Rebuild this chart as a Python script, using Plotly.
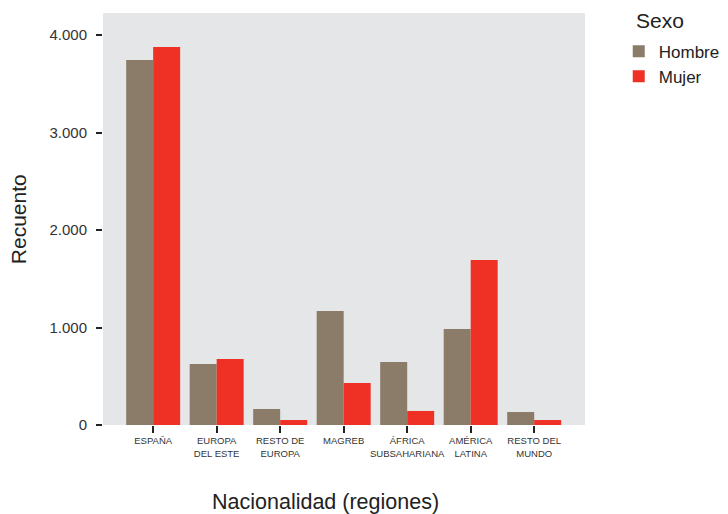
import plotly.graph_objects as go

categorias = ["ESPAÑA", "EUROPA<br>DEL ESTE", "RESTO DE<br>EUROPA", "MAGREB",
              "ÁFRICA<br>SUBSAHARIANA", "AMÉRICA<br>LATINA", "RESTO DEL<br>MUNDO"]
hombre = [3744, 626, 164, 1169, 646, 985, 133]
mujer = [3877, 677, 51, 431, 144, 1692, 51]
y_ticks = [0, 1000, 2000, 3000, 4000]
y_ticklabels = ["0", "1.000", "2.000", "3.000", "4.000"]

FONT = "Liberation Sans, Arial, sans-serif"

fig = go.Figure()
fig.add_trace(go.Bar(name="Hombre", x=categorias, y=hombre, marker_color="#8B7B69",
                     marker_line_width=0))
fig.add_trace(go.Bar(name="Mujer", x=categorias, y=mujer, marker_color="#EE3124",
                     marker_line_width=0))

# page has an 8px body margin, so the figure is 720x506
fig.update_layout(
    width=720, height=506,
    barmode="group", bargap=0.15, bargroupgap=0,
    paper_bgcolor="white", plot_bgcolor="#E4E6E8",
    margin=dict(l=95, r=143, t=5, b=89, autoexpand=False),
    font=dict(family=FONT, color="#333333"),
    legend=dict(
        font=dict(size=17, color="#222222"),
        x=1.070, xanchor="left", y=0.95, yanchor="top",
        bgcolor="rgba(0,0,0,0)", tracegroupgap=0,
    ),
    showlegend=True,
)
fig.update_xaxes(
    range=[-0.79, 6.8], showgrid=False, zeroline=False,
    ticks="outside", ticklen=7, tickwidth=2, tickcolor="#222222",
    tickfont=dict(size=9.5, color="#333333"), showline=False,
)
fig.update_yaxes(
    range=[0, 4226], showgrid=False, zeroline=False,
    tickvals=y_ticks, ticktext=y_ticklabels,
    ticks="outside", ticklen=6, tickwidth=2, tickcolor="#222222",
    tickfont=dict(size=15, color="#333333"), showline=False,
    ticklabelstandoff=6,
)
fig.add_annotation(text="Sexo", x=1.102, y=0.981, xref="paper", yref="paper",
                   xanchor="left", yanchor="middle", showarrow=False,
                   font=dict(size=21, color="#222222"))
fig.add_annotation(text="Recuento", x=-0.176, y=0.5, xref="paper", yref="paper",
                   xanchor="center", yanchor="middle",
                   showarrow=False, textangle=-90, font=dict(size=21, color="#222222"))
fig.add_annotation(text="Nacionalidad (regiones)", x=0.461, y=-0.186, xref="paper", yref="paper",
                   xanchor="center", showarrow=False, yanchor="middle",
                   font=dict(size=21.5, color="#222222"))

fig.write_html("out.html")
